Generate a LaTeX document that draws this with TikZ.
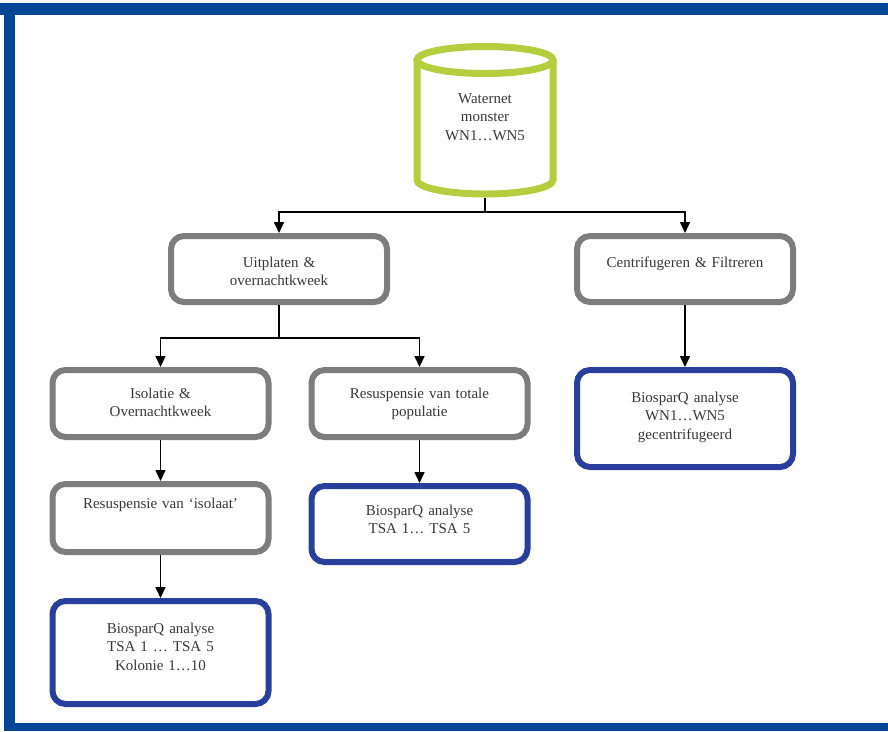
\documentclass[tikz,border=0pt]{standalone}
\usepackage{fontspec}
\setmainfont{Liberation Serif}
\usetikzlibrary{arrows.meta}
\definecolor{frameblue}{RGB}{4,70,150}
\definecolor{boxblue}{RGB}{40,64,156}
\definecolor{boxgray}{RGB}{125,125,125}
\definecolor{tankgreen}{RGB}{181,206,64}
\definecolor{txt}{RGB}{55,55,55}
\tikzset{
	flowbox/.style={line width=6pt, rounded corners=13pt, anchor=north, inner sep=0pt, text width=216pt, align=center, text=txt, font=\fontsize{15}{18.5}\selectfont},
	graybox/.style={flowbox, draw=boxgray},
	bluebox/.style={flowbox, draw=boxblue},
	link/.style={line width=1.6pt, black},
	arr/.style={link, -{Triangle[width=10pt,length=11pt]}}
}
\begin{document}
\begin{tikzpicture}[x=1pt, y=-1pt]
				\useasboundingbox (0,0) rectangle (888,731);
				\fill[frameblue] (0,3) rectangle (888,15);
				\fill[frameblue] (4,3) rectangle (15,731);
				\fill[frameblue] (4,723) rectangle (888,731);
				
				\draw[tankgreen, line width=7pt] (485,60) ellipse (68pt and 13.5pt);
				\draw[tankgreen, line width=7pt] (417,60) -- (417,180) arc[start angle=180, end angle=360, x radius=68pt, y radius=14pt] -- (553,60);
				\node[text=txt, align=center, font=\fontsize{15}{18.5}\selectfont] (wn) at (485,117) {Waternet\\monster\\WN1…WN5};
				\coordinate (tankbot) at (485,197.5);
				
				\node[graybox, text height=31pt, text depth=35pt] (uit) at (279,233) {Uitplaten \&\\overnachtkweek};
				\node[graybox, text height=31pt, text depth=35pt] (cen) at (685,233) {Centrifugeren \& Filtreren};
				\node[graybox, text height=28pt, text depth=39pt] (iso) at (160.5,367) {Isolatie \&\\Overnachtkweek};
				\node[graybox, text height=28pt, text depth=39pt] (pop) at (419.5,367) {Resuspensie van totale\\populatie};
				\node[bluebox, text height=32pt, text depth=65pt] (bqwn) at (685,367) {BiosparQ analyse\\WN1…WN5\\gecentrifugeerd};
				\node[graybox, text height=24pt, text depth=44pt] (susp) at (160.5,481) {Resuspensie van ‘isolaat’};
				\node[bluebox, text height=29pt, text depth=47pt] (bqtsa) at (419.5,483) {BiosparQ analyse\\TSA 1… TSA 5};
				\node[bluebox, text height=32pt, text depth=71pt] (bqkol) at (160.5,598) {BiosparQ analyse\\TSA 1 … TSA 5\\Kolonie 1…10};
				
				\coordinate (split1) at (485,212);
				\coordinate (split2) at (279,338);
				\draw[link] (tankbot) -- (split1);
				\draw[arr] (split1) -| (uit);
				\draw[arr] (split1) -| (cen);
				\draw[link] (uit) -- (split2);
				\draw[arr] (split2) -| (iso);
				\draw[arr] (split2) -| (pop);
				\draw[arr] (iso) -- (susp);
				\draw[arr] (susp) -- (bqkol);
				\draw[arr] (pop) -- (bqtsa);
				\draw[arr] (cen) -- (bqwn);
			\end{tikzpicture}
\end{document}
